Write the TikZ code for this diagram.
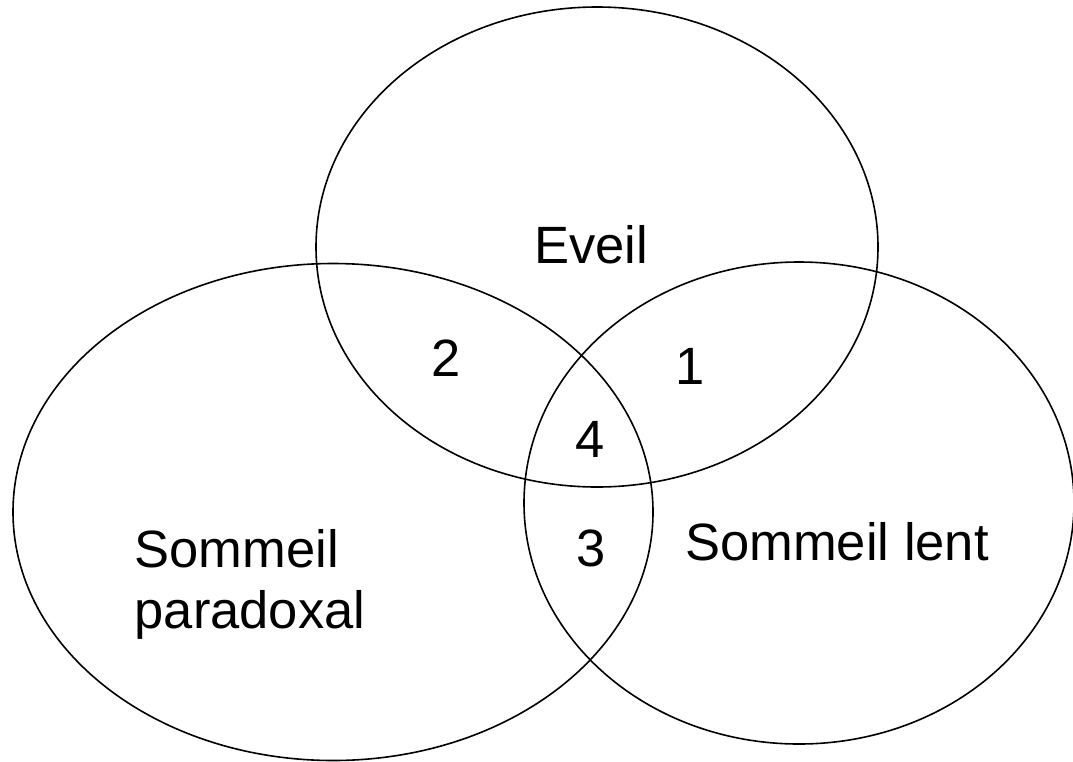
\documentclass[tikz,border=0pt]{standalone}
\usepackage{fontspec}
\setmainfont{Liberation Sans}
\usetikzlibrary{shapes.geometric}
\begin{document}
\begin{tikzpicture}[x=1pt,y=-1pt,
  setring/.style={draw=black, line width=1.6pt, ellipse, inner sep=0pt},
  lbl/.style={inner sep=0pt, anchor=base, font=\fontsize{52.5}{61}\selectfont}]
  \useasboundingbox (0,0) rectangle (1073,761);
  % the three sets
  \node[setring, minimum width=562pt, minimum height=480pt] (eveil) at (597,247) {};
  \node[setring, minimum width=640pt, minimum height=497pt] (paradoxal) at (333,512) {};
  \node[setring, minimum width=550pt, minimum height=482pt] (lent) at (799,503) {};
  % set names
  \node[lbl] (teveil) at (591,263) {Eveil};
  \node[lbl, anchor=base west] (tpar1) at (134.5,567) {Sommeil};
  \node[lbl, anchor=base west] (tpar2) at (134.5,628) {paradoxal};
  \node[lbl] (tlent) at (837,560) {Sommeil lent};
  % region numbers
  \node[lbl] (r1) at (690,384) {1};
  \node[lbl] (r2) at (446,376) {2};
  \node[lbl] (r3) at (591,566) {3};
  \node[lbl] (r4) at (590,457) {4};
\end{tikzpicture}
\end{document}
